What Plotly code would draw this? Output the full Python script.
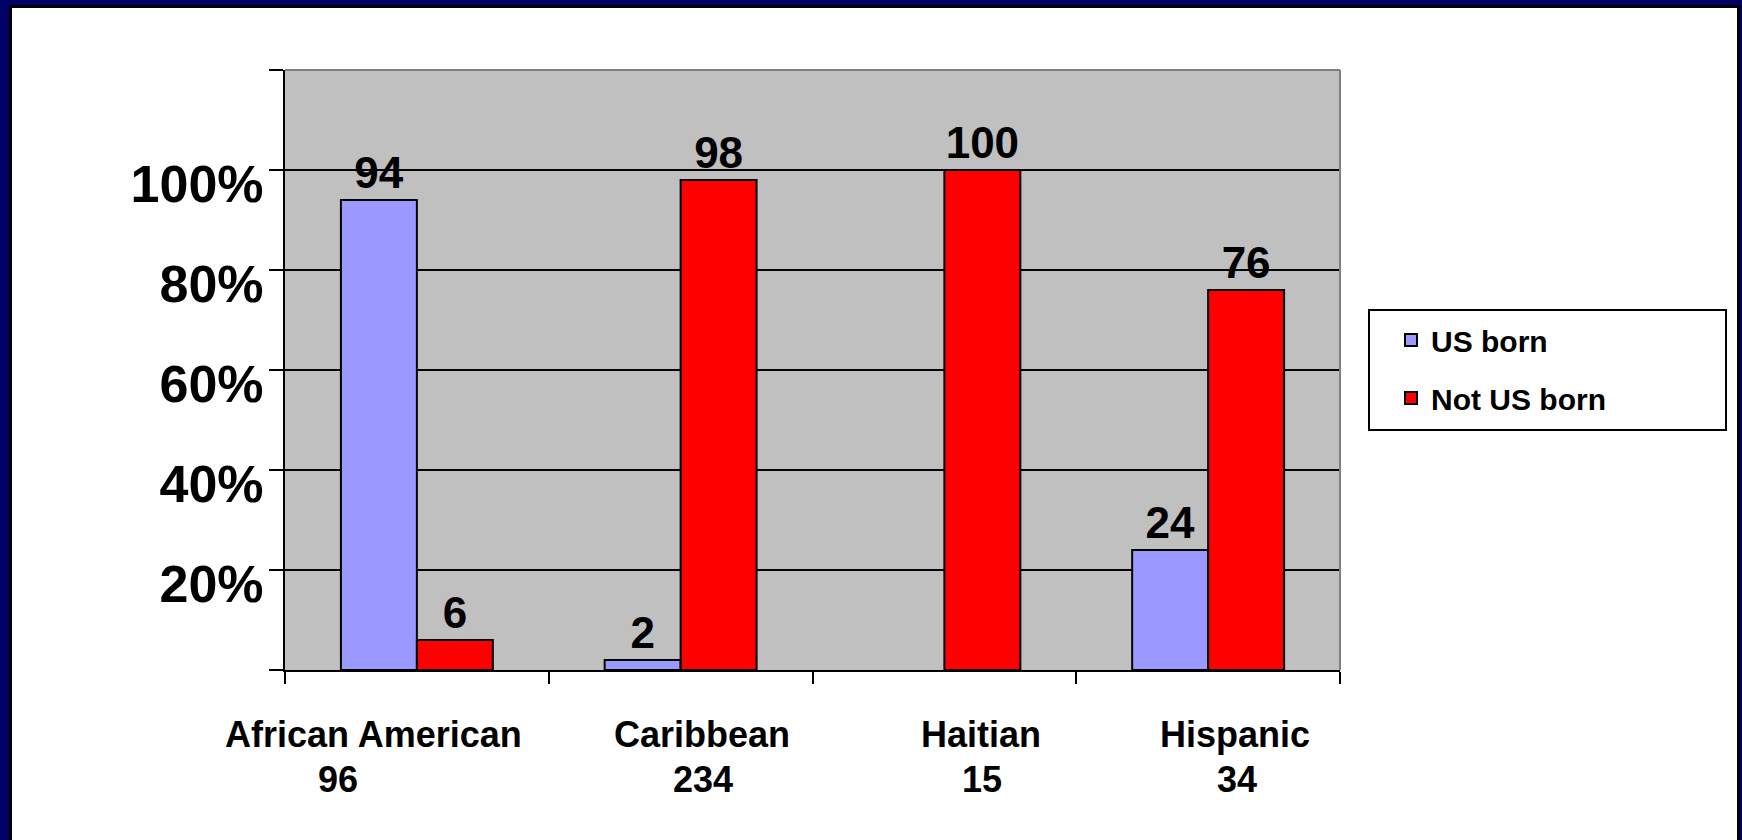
import plotly.graph_objects as go

# ---- data ----
groups = ["African American", "Caribbean", "Haitian", "Hispanic"]
group_n = ["96", "234", "15", "34"]
us_born = [94, 2, None, 24]
not_us_born = [6, 98, 100, 76]
y_ticks = [0, 20, 40, 60, 80, 100, 120]
y_tick_text = ["", "20%", "40%", "60%", "80%", "100%", ""]

# ---- page geometry (pixels) ----
W, H = 1742, 840
PL, PR, PT, PB = 285, 1340, 70, 670  # plot area edges


def px(x):
    return (x - PL) / (PR - PL)


def py(y):
    return (PB - y) / (PB - PT)


FONT = "Liberation Sans, Arial, sans-serif"
NAVY = "#000066"

fig = go.Figure()
fig.add_trace(go.Bar(
    name="US born", x=groups, y=us_born,
    marker=dict(color="#9999FF", line=dict(color="black", width=2)),
    text=us_born, textposition="outside", cliponaxis=False,
    textfont=dict(family=FONT, size=44, color="black", weight="bold"),
    legendgroup="a",
))
fig.add_trace(go.Bar(
    name="Not US born", x=groups, y=not_us_born,
    marker=dict(color="#FF0000", line=dict(color="black", width=2)),
    text=not_us_born, textposition="outside", cliponaxis=False,
    textfont=dict(family=FONT, size=44, color="black", weight="bold"),
    legendgroup="b",
))

shapes = [
    # page frame
    dict(type="rect", xref="paper", yref="paper", layer="below",
         x0=px(9), x1=px(1740), y0=py(860), y1=py(5),
         fillcolor="black", line=dict(width=0)),
    dict(type="rect", xref="paper", yref="paper", layer="below",
         x0=px(12), x1=px(1737), y0=py(860), y1=py(8),
         fillcolor="white", line=dict(width=0)),
    # plot area background
    dict(type="rect", xref="paper", yref="paper", layer="below",
         x0=0, x1=1, y0=0, y1=1,
         fillcolor="#C0C0C0", line=dict(width=0)),
    # grey top/right frame of plot area
    dict(type="line", xref="paper", yref="paper", layer="above",
         x0=0, x1=1, y0=1, y1=1, line=dict(color="#808080", width=2)),
    dict(type="line", xref="paper", yref="paper", layer="above",
         x0=1, x1=1, y0=0, y1=1, line=dict(color="#808080", width=2)),
    # legend box
    dict(type="rect", xref="paper", yref="paper", layer="below",
         x0=px(1369), x1=px(1726), y0=py(430), y1=py(310),
         fillcolor="white", line=dict(color="black", width=2)),
]

# category labels under the x axis (name and sample size)
name_nudge = [-43, 21, 37, 27]
count_nudge = [-79, 22, 38, 29]
annotations = []
for g, n, dn, dc in zip(groups, group_n, name_nudge, count_nudge):
    annotations.append(dict(
        x=g, xref="x", y=py(734), yref="paper", text=g, showarrow=False,
        xshift=dn, xanchor="center", yanchor="middle",
        font=dict(family=FONT, size=36, color="black", weight="bold")))
    annotations.append(dict(
        x=g, xref="x", y=py(779), yref="paper", text=n, showarrow=False,
        xshift=dc, xanchor="center", yanchor="middle",
        font=dict(family=FONT, size=36, color="black", weight="bold")))

fig.update_layout(
    width=W, height=H,
    margin=dict(l=PL, r=W - PR, t=PT, b=H - PB, pad=0),
    paper_bgcolor=NAVY,
    plot_bgcolor="rgba(0,0,0,0)",
    barmode="group", bargap=0.424, bargroupgap=0,
    font=dict(family=FONT, color="black"),
    showlegend=True,
    legend=dict(
        x=px(1391), y=py(314), xanchor="left", yanchor="top",
        bgcolor="rgba(0,0,0,0)", borderwidth=0,
        font=dict(family=FONT, size=30, color="black", weight="bold"),
        tracegroupgap=16, traceorder="grouped",
    ),
    shapes=shapes,
    annotations=annotations,
    xaxis=dict(
        type="category", range=[-0.5, len(groups) - 0.5],
        tickson="boundaries",
        ticks="outside", ticklen=12, tickwidth=2, tickcolor="black",
        showline=True, linecolor="black", linewidth=2,
        showgrid=False, showticklabels=False, zeroline=False,
        fixedrange=True,
    ),
    yaxis=dict(
        range=[0, 120], tickvals=y_ticks, ticktext=y_tick_text,
        ticks="outside", ticklen=14, tickwidth=2, tickcolor="black",
        showline=True, linecolor="black", linewidth=2,
        showgrid=True, gridcolor="black", gridwidth=2, zeroline=False,
        tickfont=dict(family=FONT, size=52, color="black", weight="bold"),
        ticklabelshift=14, ticklabelstandoff=-5,
        fixedrange=True,
    ),
)

fig.write_html("out.html")
